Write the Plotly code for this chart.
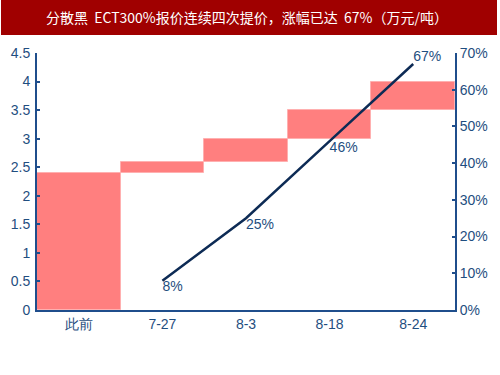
import plotly.graph_objects as go

categories = ["此前", "7-27", "8-3", "8-18", "8-24"]
prices = [2.4, 2.6, 3.0, 3.5, 4.0]
line_x = ["7-27", "8-3", "8-18", "8-24"]
rise = [0.08, 0.25, 0.46, 0.67]
rise_labels = ["8%", "25%", "46%", "67%"]
left_ticks = [0, 0.5, 1, 1.5, 2, 2.5, 3, 3.5, 4, 4.5]
left_tick_text = ["0", "0.5", "1", "1.5", "2", "2.5", "3", "3.5", "4", "4.5"]
right_ticks = [0, 0.1, 0.2, 0.3, 0.4, 0.5, 0.6, 0.7]
right_tick_text = ["0%", "10%", "20%", "30%", "40%", "50%", "60%", "70%"]
title = "分散黑  ECT300%报价连续四次提价，涨幅已达  67%（万元/吨）"

bases = [0] + prices[:-1]
heights = [p - b for p, b in zip(prices, bases)]

axis_color = "#1F4E8C"
tick_font = dict(family="Liberation Sans, Arial, sans-serif", size=14, color="#1F4E80")

fig = go.Figure()
fig.add_trace(go.Bar(
    x=categories, y=heights, base=bases,
    marker=dict(color="#FF7F7F", line=dict(color="#FFB0B0", width=1)),
    showlegend=False, hoverinfo="skip",
))
fig.add_trace(go.Scatter(
    x=line_x, y=rise, yaxis="y2", mode="lines+text",
    line=dict(color="#0D2B55", width=2.5),
    text=rise_labels,
    textposition=["bottom right", "bottom right", "bottom right", "top right"],
    textfont=tick_font,
    showlegend=False, cliponaxis=False, hoverinfo="skip",
))

W, H = 500, 375
ml, mr, mt, mb = 37, 45, 53, 65
pw, ph = W - ml - mr, H - mt - mb

fig.update_layout(
    width=W, height=H,
    margin=dict(l=ml, r=mr, t=mt, b=mb),
    paper_bgcolor="white", plot_bgcolor="white",
    bargap=0,
    xaxis=dict(
        categoryorder="array", categoryarray=categories,
        showline=True, linecolor=axis_color, linewidth=2,
        ticks="", tickfont=tick_font, showgrid=False, zeroline=False,
        automargin=False,
    ),
    yaxis=dict(
        range=[0, 4.5], tickvals=left_ticks, ticktext=left_tick_text,
        showline=True, linecolor=axis_color, linewidth=2,
        ticks="inside", ticklen=3, tickcolor=axis_color, tickwidth=1.5,
        tickfont=tick_font, showgrid=False, zeroline=False,
        automargin=False, ticklabelstandoff=2,
    ),
    yaxis2=dict(
        overlaying="y", side="right",
        range=[0, 0.7], tickvals=right_ticks, ticktext=right_tick_text,
        showline=True, linecolor=axis_color, linewidth=2,
        ticks="inside", ticklen=3, tickcolor=axis_color, tickwidth=1.5,
        tickfont=tick_font, showgrid=False, zeroline=False,
        automargin=False,
    ),
    shapes=[dict(
        type="rect", xref="paper", yref="paper",
        x0=(1 - ml) / pw, x1=(497 - ml) / pw,
        y0=1 + (mt - 35) / ph, y1=1 + mt / ph,
        fillcolor="#A00000", line=dict(width=0), layer="above",
    )],
    annotations=[dict(
        text=title, xref="paper", yref="paper",
        x=(247 - ml) / pw, y=1 + (mt - 17) / ph,
        xanchor="center", yanchor="middle", showarrow=False,
        font=dict(family="Noto Sans CJK SC, sans-serif", size=14, color="white"),
    )],
)

fig.write_html("out.html", config={"displayModeBar": False},
               post_script="document.body.style.margin='0';")
